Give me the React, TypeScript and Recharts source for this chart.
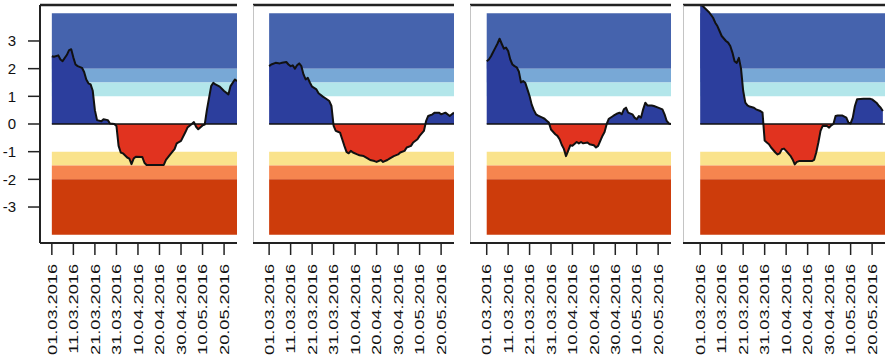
import React from 'react';
import { ComposedChart, Area, XAxis, YAxis, ReferenceArea, ReferenceLine } from 'recharts';

// x positions are days since 01.03.2016
const tickDays = [0, 10, 20, 30, 40, 50, 60, 70, 80];
const tickLabels = [
    '01.03.2016', '11.03.2016', '21.03.2016', '31.03.2016', '10.04.2016',
    '20.04.2016', '30.04.2016', '10.05.2016', '20.05.2016',
];
const yTicks = [-3, -2, -1, 0, 1, 2, 3];

// class thresholds of the index
const bandFrom = [2, 1.5, 1, -1.5, -2, -4];
const bandTo = [4, 2, 1.5, -1, -1.5, -2];

const days1 = [0, 1, 3, 4, 5, 7, 8, 9, 10, 11, 12, 14, 15, 16, 17, 18, 19, 20, 21, 23, 24, 26, 27, 29, 30, 31, 32, 33, 35, 36, 37, 38, 39, 42, 43, 44, 48, 52, 53, 55, 57, 58, 60, 62, 63, 65, 66, 67, 68, 70, 71, 72, 74, 75, 76, 78, 80, 82, 83, 85, 86];
const spi1 = [2.45, 2.43, 2.48, 2.33, 2.27, 2.5, 2.67, 2.7, 2.4, 2.15, 2.09, 2.03, 1.88, 1.61, 1.47, 1.43, 1.2, 0.5, 0.14, 0.1, 0.17, 0.14, 0.02, 0, -0.07, -0.79, -1.03, -1.06, -1.21, -1.25, -1.45, -1.25, -1.18, -1.19, -1.4, -1.48, -1.48, -1.48, -1.3, -1.1, -0.91, -0.7, -0.61, -0.3, -0.13, 0, 0.07, -0.1, -0.19, -0.05, -0.02, 0.5, 1.37, 1.49, 1.43, 1.35, 1.19, 1.07, 1.37, 1.61, 1.55];

const days2 = [0, 1, 3, 5, 6, 8, 9, 10, 11, 12, 13, 14, 15, 16, 17, 18, 19, 20, 22, 23, 25, 26, 28, 29, 30, 31, 32, 33, 34, 35, 36, 37, 38, 39, 41, 42, 44, 46, 47, 49, 50, 52, 53, 55, 56, 58, 60, 61, 63, 64, 66, 67, 69, 70, 72, 73, 74, 76, 77, 79, 80, 82, 84, 85, 86];
const spi2 = [2.09, 2.15, 2.21, 2.19, 2.21, 2.24, 2.15, 2.09, 2.12, 2.0, 2.12, 2.19, 2.09, 1.79, 1.61, 1.67, 1.49, 1.35, 1.25, 1.11, 0.99, 0.94, 0.83, 0.65, -0.07, -0.25, -0.28, -0.31, -0.55, -0.79, -1.01, -1.06, -0.97, -1.03, -1.1, -1.13, -1.16, -1.25, -1.3, -1.34, -1.37, -1.3, -1.37, -1.3, -1.25, -1.16, -1.1, -1.03, -0.97, -0.85, -0.79, -0.67, -0.55, -0.43, -0.25, 0.1, 0.29, 0.35, 0.41, 0.41, 0.35, 0.41, 0.29, 0.35, 0.41];

const days3 = [0, 1, 2, 3, 4, 5, 6, 7, 8, 9, 10, 11, 12, 13, 14, 15, 16, 17, 18, 19, 20, 21, 22, 23, 24, 26, 27, 28, 29, 30, 32, 33, 34, 35, 36, 37, 38, 39, 40, 42, 43, 44, 45, 47, 48, 50, 51, 52, 53, 54, 55, 56, 57, 59, 61, 62, 63, 64, 65, 66, 68, 69, 70, 71, 72, 73, 74, 75, 77, 78, 80, 82, 83, 84, 85, 86];
const spi3 = [2.27, 2.33, 2.45, 2.6, 2.75, 2.9, 3.08, 2.9, 2.72, 2.76, 2.64, 2.33, 2.15, 2.09, 2.05, 1.9, 1.5, 1.55, 1.49, 1.25, 1.01, 0.7, 0.5, 0.35, 0.3, 0.23, 0.19, 0.12, 0.05, -0.2, -0.37, -0.43, -0.55, -0.75, -0.9, -1.16, -0.97, -0.77, -0.79, -0.65, -0.7, -0.65, -0.7, -0.67, -0.73, -0.77, -0.85, -0.79, -0.61, -0.43, -0.29, 0, 0.19, 0.29, 0.38, 0.41, 0.35, 0.53, 0.59, 0.41, 0.35, 0.23, 0.17, 0.29, 0.23, 0.53, 0.77, 0.67, 0.67, 0.65, 0.59, 0.53, 0.35, 0.11, 0.02, 0];

const days4 = [0, 1, 2, 4, 6, 7, 8, 9, 10, 12, 13, 14, 15, 16, 17, 18, 19, 20, 21, 22, 23, 25, 26, 28, 29, 30, 31, 32, 33, 35, 36, 37, 38, 39, 40, 42, 43, 44, 45, 46, 48, 52, 53, 54, 55, 56, 57, 59, 60, 61, 62, 63, 64, 66, 68, 69, 70, 71, 72, 73, 76, 79, 80, 82, 83, 84, 85];
const spi4 = [4.3, 4.28, 4.2, 4.05, 3.84, 3.66, 3.54, 3.36, 3.18, 3.0, 2.94, 2.82, 2.58, 2.27, 2.21, 2.39, 2.0, 1.2, 0.77, 0.67, 0.63, 0.59, 0.53, 0.47, 0.41, -0.6, -0.67, -0.73, -0.85, -1.03, -1.1, -1.06, -0.91, -0.89, -0.97, -1.15, -1.28, -1.46, -1.37, -1.34, -1.34, -1.34, -1.3, -1.03, -0.67, -0.25, -0.07, -0.07, -0.13, -0.05, 0, 0.29, 0.31, 0.31, 0.23, 0.05, 0.02, 0.23, 0.65, 0.89, 0.91, 0.91, 0.89, 0.77, 0.67, 0.59, 0.47];

const bandColors = ['#4563ad', '#78a8d6', '#b3e6ea', '#fae38c', '#f6854f', '#cd3c0b'];
const WET = '#2c3e9d';
const DRY = '#e1331f';
const FONT = '"Liberation Sans", Arial, sans-serif';

const Y_MIN = -4.3;
const Y_MAX = 4.3;
const LAST_DAY = 86;
const PLOT_TOP = 5;
const PLOT_BOTTOM = 243;
const H = 364;

const panels = [
    { left: 0, width: 237, xMin: -5.5, yAxis: true, days: days1, values: spi1 },
    { left: 253, width: 201, xMin: -7.5, yAxis: false, days: days2, values: spi2 },
    { left: 470, width: 201, xMin: -7.8, yAxis: false, days: days3, values: spi3 },
    { left: 683, width: 202, xMin: -8, yAxis: false, days: days4, values: spi4 },
];

// the dates are drawn rotated and stretched along the text, like the original
const DateTick = (props: any) => {
    const { x, y, payload } = props;
    const label = tickLabels[tickDays.indexOf(payload.value)];
    return (
        <text
            transform={`translate(${x},${y}) rotate(-90) scale(1.4,1)`}
            textAnchor="end"
            dy="0.36em"
            fontSize={13}
            fill="#111"
            fontFamily={FONT}
        >
            {label}
        </text>
    );
};

const Panel: React.FC<{ cfg: typeof panels[number]; idx: number }> = ({ cfg, idx }) => {
    const data = cfg.days.map((d, i) => ({ day: d, v: cfg.values[i] }));
    const gradId = `spi-fill-${idx}`;

    return (
        <div style={{ position: 'absolute', left: cfg.left, top: 0 }}>
            <ComposedChart
                width={cfg.width}
                height={H}
                data={data}
                margin={{ top: PLOT_TOP, right: 0, bottom: 0, left: 0 }}
            >
                <defs>
                    <linearGradient id={gradId} gradientUnits="userSpaceOnUse" x1="0" y1={PLOT_TOP} x2="0" y2={PLOT_BOTTOM}>
                        <stop offset="0.5" stopColor={WET} />
                        <stop offset="0.5" stopColor={DRY} />
                    </linearGradient>
                </defs>
                <XAxis
                    type="number"
                    dataKey="day"
                    domain={[cfg.xMin, LAST_DAY]}
                    allowDataOverflow
                    ticks={tickDays}
                    interval={0}
                    height={H - PLOT_BOTTOM}
                    tickSize={12}
                    tickMargin={9}
                    axisLine={{ stroke: '#222', strokeWidth: 2 }}
                    tickLine={{ stroke: '#222', strokeWidth: 1.5 }}
                    tick={<DateTick />}
                />
                {cfg.yAxis ? (
                    <YAxis
                        type="number"
                        domain={[Y_MIN, Y_MAX]}
                        allowDataOverflow
                        ticks={yTicks}
                        interval={0}
                        width={40}
                        tickSize={12}
                        tickMargin={12}
                        axisLine={{ stroke: '#222', strokeWidth: 2 }}
                        tickLine={{ stroke: '#222', strokeWidth: 1.5 }}
                        tick={{ fill: '#111', fontSize: 15, fontFamily: FONT }}
                    />
                ) : (
                    <YAxis type="number" hide domain={[Y_MIN, Y_MAX]} allowDataOverflow />
                )}

                {bandFrom.map((from, i) => (
                    <ReferenceArea
                        key={i}
                        x1={0}
                        x2={LAST_DAY}
                        y1={from}
                        y2={bandTo[i]}
                        fill={bandColors[i]}
                        fillOpacity={1}
                        stroke="none"
                    />
                ))}

                <Area
                    type="linear"
                    dataKey="v"
                    baseValue={0}
                    stroke="#111"
                    strokeWidth={2}
                    strokeLinejoin="round"
                    fill={`url(#${gradId})`}
                    fillOpacity={1}
                    dot={false}
                    activeDot={false}
                    isAnimationActive={false}
                />

                <ReferenceLine
                    segment={[{ x: 0, y: 0 }, { x: LAST_DAY, y: 0 }]}
                    stroke="#111"
                    strokeWidth={1.5}
                />
                <ReferenceLine y={Y_MAX} stroke="#222" strokeWidth={2.5} />
                {!cfg.yAxis && <ReferenceLine x={cfg.xMin} stroke="#b0b0b0" strokeWidth={1.5} />}
            </ComposedChart>
        </div>
    );
};

export default function App() {
    return (
        <div style={{ position: 'absolute', left: 0, top: 0, width: 885, height: H, background: '#fff', overflow: 'hidden' }}>
            {panels.map((p, i) => (
                <Panel key={i} cfg={p} idx={i} />
            ))}
        </div>
    );
}
